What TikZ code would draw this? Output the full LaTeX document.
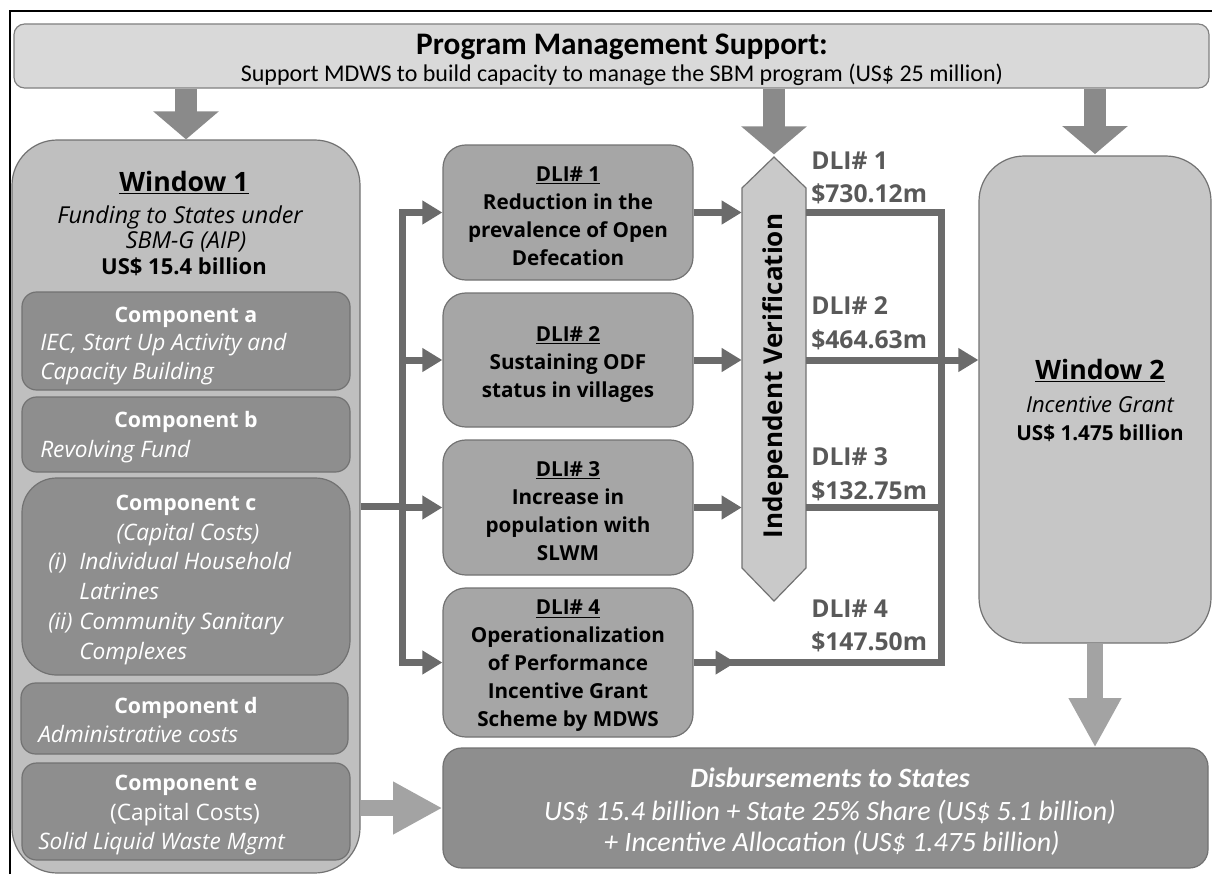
\documentclass[tikz,border=0pt]{standalone}
\usepackage{fontspec}
\setmainfont{Open Sans}
\newfontfamily\calfont{Carlito}
\usetikzlibrary{arrows.meta,calc}
\definecolor{topfill}{HTML}{D9D9D9}
\definecolor{winfill}{HTML}{BFBFBF}
\definecolor{compfill}{HTML}{8E8E8E}
\definecolor{dlifill}{HTML}{A6A6A6}
\definecolor{hexfill}{HTML}{C9C9C9}
\definecolor{wintwofill}{HTML}{C6C6C6}
\definecolor{edgecol}{HTML}{727272}
\definecolor{linecol}{HTML}{6B6B6B}
\definecolor{labcol}{HTML}{595959}
\definecolor{bigarr}{HTML}{8A8A8A}
\definecolor{lightarr}{HTML}{A3A3A3}
\newcommand\fsz[1]{\fontsize{#1}{#1}\selectfont}
\begin{document}
\begin{tikzpicture}[x=0.75pt,y=-0.75pt,
  box/.style={draw=edgecol,line width=0.9pt,inner sep=0pt},
  sz/.style 2 args={minimum width=#1*0.75pt,minimum height=#2*0.75pt},
  conn/.style={draw=linecol,line width=5.25pt},
  tip/.style={-{Triangle[length=15pt,width=17pt]}},
  blk/.style={draw=bigarr,line width=16.5pt,-{Triangle[length=21pt,width=48pt]}},
  lblk/.style={draw=lightarr,line width=12.5pt,-{Triangle[length=37pt,width=37pt]}},
  txt/.style={inner sep=0pt,anchor=mid,yshift=-3pt},
  ltxt/.style={inner sep=0pt,anchor=mid west,yshift=-3pt},
  wt/.style={text=white},
  dlitext/.style={align=center,inner sep=0pt,font=\bfseries\fontsize{15.5}{21}\selectfont},
  amt/.style={ltxt,text=labcol,font=\bfseries\fsz{18.5}},
  ci/.style={ltxt,wt,font=\itshape\fsz{17}},
  ch/.style={txt,wt,font=\bfseries\fsz{16}},
]
\useasboundingbox (0,0) rectangle (1212,874);
% frame
\draw[line width=1.5pt] (10,874) -- (10,11) -- (1212,11);

% top box
\node[box,fill=topfill,draw=gray,rounded corners=8pt,sz={1195}{64}] (pms) at (611.5,56) {};
\node[txt,font=\calfont\bfseries\fsz{23.5}] (pmsT) at (622,47) {Program Management Support:};
\node[txt,font=\calfont\fsz{18}] (pmsS) at (622,74) {Support MDWS to build capacity to manage the SBM program (US\$ 25 million)};

% window 1
\node[box,fill=winfill,rounded corners=34pt,sz={348}{733}] (w1) at (186,506.5) {};
\node[txt,font=\bfseries\fsz{20}] (w1T) at (184,184) {\underline{Window 1}};
\node[txt,font=\itshape\fsz{17.5}] (w1a) at (180,216) {Funding to States under};
\node[txt,font=\itshape\fsz{17.5}] (w1b) at (186,241) {SBM-G (AIP)};
\node[txt,font=\bfseries\fsz{16.5}] (w1c) at (184,267) {US\$ 15.4 billion};

% components
\node[box,fill=compfill,rounded corners=11pt,sz={328}{98}] (ca) at (186,341) {};
\node[box,fill=compfill,rounded corners=11pt,sz={328}{75}] (cb) at (186,434.5) {};
\node[box,fill=compfill,rounded corners=26pt,sz={328}{197}] (cc) at (186,576.5) {};
\node[box,fill=compfill,rounded corners=11pt,sz={327}{71}] (cd) at (184.5,718.5) {};
\node[box,fill=compfill,rounded corners=11pt,sz={328}{97}] (ce) at (186,811.5) {};

\node[ch] (caH) at (186,315) {Component a};
\node[ci] (ca1) at (40,343) {IEC, Start Up Activity and};
\node[ci] (ca2) at (40,372) {Capacity Building};
\node[ch] (cbH) at (186,420) {Component b};
\node[ci] (cb1) at (40,450) {Revolving Fund};
\node[ch] (ccH) at (186,503) {Component c};
\node[txt,wt,font=\itshape\fsz{17}] (cc1) at (188,533) {(Capital Costs)};
\node[ci] (cc2) at (48,562) {(i)};
\node[ci] (cc3) at (79,562) {Individual Household};
\node[ci] (cc4) at (79,592) {Latrines};
\node[ci] (cc5) at (48,622) {(ii)};
\node[ci] (cc6) at (79,622) {Community Sanitary};
\node[ci] (cc7) at (79,652) {Complexes};
\node[ch] (cdH) at (186,706) {Component d};
\node[ci] (cd1) at (38,735) {Administrative costs};
\node[ch] (ceH) at (186,783) {Component e};
\node[txt,wt,font=\fsz{17}] (ce1) at (185,813) {(Capital Costs)};
\node[ci] (ce2) at (38,842) {Solid Liquid Waste Mgmt};

% DLI boxes
\node[box,fill=dlifill,rounded corners=17pt,sz={250}{135}] (d1) at (568,212.5) {};
\node[box,fill=dlifill,rounded corners=17pt,sz={250}{134}] (d2) at (568,360) {};
\node[box,fill=dlifill,rounded corners=17pt,sz={250}{135}] (d3) at (568,507.5) {};
\node[box,fill=dlifill,rounded corners=17pt,sz={250}{149}] (d4) at (568,662.5) {};
\node[dlitext] (d1T) at (568,216) {\underline{DLI\# 1}\\Reduction in the\\prevalence of Open\\Defecation};
\node[dlitext] (d2T) at (568,364) {\underline{DLI\# 2}\\Sustaining ODF\\status in villages};
\node[dlitext] (d3T) at (568,511) {\underline{DLI\# 3}\\Increase in\\population with\\SLWM};
\node[dlitext] (d4T) at (568,666) {\underline{DLI\# 4}\\Operationalization\\of Performance\\Incentive Grant\\Scheme by MDWS};

% independent verification
\filldraw[fill=hexfill,draw=edgecol,line width=0.9pt] (774,157) -- (806,188) -- (806,568) -- (774,601) -- (742,568) -- (742,188) -- cycle;
\node[inner sep=0pt,sz={64}{380}] (iv) at (774,378) {};
\node[rotate=90,inner sep=0pt,font=\bfseries\fsz{19.5}] (ivT) at (776,376) {Independent Verification};

% window 2
\node[box,fill=wintwofill,rounded corners=34pt,sz={232}{487}] (w2) at (1095,399.5) {};
\node[txt,font=\bfseries\fsz{20}] (w2T) at (1100,372) {\underline{Window 2}};
\node[txt,font=\itshape\fsz{16.5}] (w2a) at (1100,405) {Incentive Grant};
\node[txt,font=\bfseries\fsz{15.5}] (w2b) at (1100,433) {US\$ 1.475 billion};

% disbursements
\node[box,fill=compfill,rounded corners=14pt,sz={765}{120}] (disb) at (825.5,808) {};
\node[txt,wt,font=\calfont\bfseries\itshape\fsz{21}] (dbT) at (830,780) {Disbursements to States};
\node[txt,wt,font=\calfont\itshape\fsz{21}] (db1) at (830,813) {US\$ 15.4 billion + State 25\% Share (US\$ 5.1 billion)};
\node[txt,wt,font=\calfont\itshape\fsz{21}] (db2) at (832,844) {+ Incentive Allocation (US\$ 1.475 billion)};

% DLI amount labels
\node[amt] (l1a) at (811,162) {DLI\# 1};
\node[amt] (l1b) at (811,195) {\$730.12m};
\node[amt] (l2a) at (811,307) {DLI\# 2};
\node[amt] (l2b) at (811,341) {\$464.63m};
\node[amt] (l3a) at (811,458) {DLI\# 3};
\node[amt] (l3b) at (811,492) {\$132.75m};
\node[amt] (l4a) at (811,610) {DLI\# 4};
\node[amt] (l4b) at (811,643) {\$147.50m};

% block arrows
\draw[blk] (pms.south -| w1.north) -- (w1.north);
\draw[blk,shorten >=25pt] (pms.south -| iv.north) -- (iv.north);
\draw[blk,shorten >=1pt] (pms.south -| w2.north) -- (w2.north);
\draw[lblk] (disb.west -| w1.east) -- (disb.west);
\draw[lblk] (w2.south) -- (disb.north -| w2.south);

% connectors
\coordinate (bx) at (402,0);
\coordinate (rx) at (941,0);
\draw[conn] (w1.east) -- (w1.east -| bx);
\draw[conn,line cap=rect] (bx |- d1.west) -- (bx |- d4.west);
\draw[conn,tip] (bx |- d1.west) -- (d1.west);
\draw[conn,tip] (bx |- d2.west) -- (d2.west);
\draw[conn,tip] (bx |- d3.west) -- (d3.west);
\draw[conn,tip] (bx |- d4.west) -- (d4.west);
\draw[conn,tip] (d1.east) -- (d1.east -| iv.west);
\draw[conn,tip] (d2.east) -- (d2.east -| iv.west);
\draw[conn,tip] (d3.east) -- (d3.east -| iv.west);
\draw[conn] (d1.east -| iv.east) -- (d1.east -| rx);
\draw[conn] (d2.east -| iv.east) -- (d2.east -| rx);
\draw[conn] (d3.east -| iv.east) -- (d3.east -| rx);
\draw[conn] (d4.east) -- (d4.east -| rx);
\draw[conn,tip] (d4.east) -- ($(d4.east)+(42,0)$);
\draw[conn,line cap=rect] (d1.east -| rx) -- (d4.east -| rx);
\draw[conn,tip] (d2.east -| rx) -- (d2.east -| w2.west);
\end{tikzpicture}
\end{document}
